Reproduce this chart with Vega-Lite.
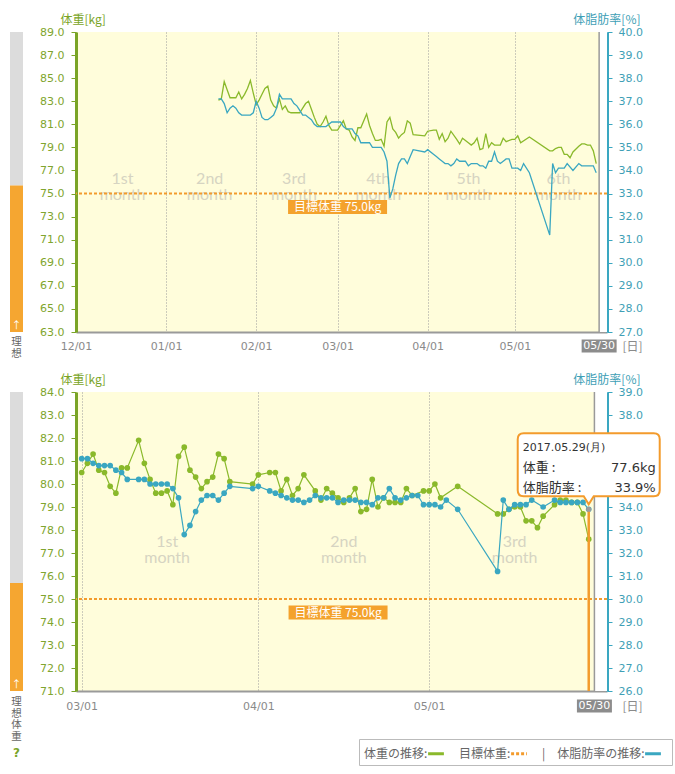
{
  "$schema": "https://vega.github.io/schema/vega-lite/v6.json",
  "description": "Weight and body fat trend, 6 months and 3 months",
  "padding": {"left": 10, "top": 13, "right": 5, "bottom": 5},
  "background": "white",
  "columns": 2,
  "bounds": "flush",
  "spacing": {"row": 60, "column": 53},
  "resolve": {"scale": {"color": "independent"}, "legend": {"color": "independent"}},
  "config": {
    "view": {"stroke": null},
    "font": "Noto Sans CJK JP",
    "axis": {"labelFont": "DejaVu Sans", "titleFont": "Noto Sans CJK JP", "titleFontWeight": "normal", "labelOverlap": false}
  },
  "datasets": {
    "ideal": [
      {"part": "超過", "lo": 75.7, "hi": 89},
      {"part": "理想", "lo": 63, "hi": 75.7}
    ],
    "monthsTop": [
      {"label": "1st\nmonth", "mid": "2016-12-17"},
      {"label": "2nd\nmonth", "mid": "2017-01-16"},
      {"label": "3rd\nmonth", "mid": "2017-02-14"},
      {"label": "4th\nmonth", "mid": "2017-03-15"},
      {"label": "5th\nmonth", "mid": "2017-04-15"},
      {"label": "6th\nmonth", "mid": "2017-05-16"}
    ],
    "monthsBottom": [
      {"label": "1st\nmonth", "mid": "2017-03-16"},
      {"label": "2nd\nmonth", "mid": "2017-04-16"},
      {"label": "3rd\nmonth", "mid": "2017-05-16"}
    ],
    "body": [
      {"date": "2017-01-19", "weight": 83.1, "fat": 37.1},
      {"date": "2017-01-20", "weight": 83.2, "fat": 37.1},
      {"date": "2017-01-21", "weight": 84.7, "fat": 36.9},
      {"date": "2017-01-22", "weight": 84.0, "fat": 36.5},
      {"date": "2017-01-23", "weight": 83.3, "fat": 36.7},
      {"date": "2017-01-24", "weight": 83.3, "fat": 36.8},
      {"date": "2017-01-25", "weight": 83.3, "fat": 36.7},
      {"date": "2017-01-26", "weight": 83.8, "fat": 36.5},
      {"date": "2017-01-27", "weight": 83.2, "fat": 36.4},
      {"date": "2017-01-28", "weight": 83.6, "fat": 36.4},
      {"date": "2017-01-29", "weight": 84.1, "fat": 36.4},
      {"date": "2017-01-30", "weight": 84.8, "fat": 36.4},
      {"date": "2017-01-31", "weight": 83.7, "fat": 36.5},
      {"date": "2017-02-01", "weight": 82.7, "fat": 37.0},
      {"date": "2017-02-02", "weight": 83.1, "fat": 36.7},
      {"date": "2017-02-03", "weight": 83.6, "fat": 36.3},
      {"date": "2017-02-04", "weight": 84.1, "fat": 36.2},
      {"date": "2017-02-05", "weight": 84.3, "fat": 36.2},
      {"date": "2017-02-06", "weight": 83.1, "fat": 36.3},
      {"date": "2017-02-07", "weight": 82.6, "fat": 36.4},
      {"date": "2017-02-08", "weight": 82.4, "fat": 36.7},
      {"date": "2017-02-09", "weight": 83.2, "fat": 37.3},
      {"date": "2017-02-10", "weight": 82.3, "fat": 37.1},
      {"date": "2017-02-11", "weight": 82.6, "fat": 37.1},
      {"date": "2017-02-12", "weight": 82.1, "fat": 37.1},
      {"date": "2017-02-13", "weight": 82.0, "fat": 37.1},
      {"date": "2017-02-14", "weight": 82.0, "fat": 36.9},
      {"date": "2017-02-15", "weight": 82.0, "fat": 36.8},
      {"date": "2017-02-16", "weight": 82.0, "fat": 36.6},
      {"date": "2017-02-17", "weight": 82.4, "fat": 36.4},
      {"date": "2017-02-18", "weight": 82.8, "fat": 36.4},
      {"date": "2017-02-19", "weight": 83.0, "fat": 36.3},
      {"date": "2017-02-20", "weight": 82.3, "fat": 36.2},
      {"date": "2017-02-21", "weight": 81.6, "fat": 36.0},
      {"date": "2017-02-22", "weight": 81.0, "fat": 35.9},
      {"date": "2017-02-23", "weight": 80.8, "fat": 35.9},
      {"date": "2017-02-24", "weight": 81.2, "fat": 35.9},
      {"date": "2017-02-25", "weight": 81.7, "fat": 35.9},
      {"date": "2017-02-26", "weight": 80.9, "fat": 36.0},
      {"date": "2017-02-27", "weight": 80.5, "fat": 36.1},
      {"date": "2017-02-28", "weight": 80.5, "fat": 36.1},
      {"date": "2017-03-01", "weight": 80.5, "fat": 36.1},
      {"date": "2017-03-02", "weight": 80.9, "fat": 36.1},
      {"date": "2017-03-03", "weight": 81.3, "fat": 35.9},
      {"date": "2017-03-04", "weight": 80.6, "fat": 35.8},
      {"date": "2017-03-05", "weight": 80.5, "fat": 35.8},
      {"date": "2017-03-06", "weight": 79.9, "fat": 35.8},
      {"date": "2017-03-07", "weight": 79.6, "fat": 35.6},
      {"date": "2017-03-08", "weight": 80.7, "fat": 35.5},
      {"date": "2017-03-09", "weight": 80.7, "fat": 35.2},
      {"date": "2017-03-11", "weight": 81.9, "fat": 35.2},
      {"date": "2017-03-12", "weight": 80.9, "fat": 35.2},
      {"date": "2017-03-13", "weight": 80.2, "fat": 35.0},
      {"date": "2017-03-14", "weight": 79.6, "fat": 35.0},
      {"date": "2017-03-15", "weight": 79.6, "fat": 35.0},
      {"date": "2017-03-16", "weight": 79.7, "fat": 35.0},
      {"date": "2017-03-17", "weight": 79.1, "fat": 34.8},
      {"date": "2017-03-18", "weight": 81.2, "fat": 34.4},
      {"date": "2017-03-19", "weight": 81.6, "fat": 32.8},
      {"date": "2017-03-20", "weight": 80.6, "fat": 33.2},
      {"date": "2017-03-21", "weight": 80.3, "fat": 33.8},
      {"date": "2017-03-22", "weight": 79.8, "fat": 34.3},
      {"date": "2017-03-23", "weight": 80.1, "fat": 34.5},
      {"date": "2017-03-24", "weight": 80.3, "fat": 34.5},
      {"date": "2017-03-25", "weight": 81.3, "fat": 34.3},
      {"date": "2017-03-26", "weight": 81.1, "fat": 34.6},
      {"date": "2017-03-27", "weight": 80.1, "fat": 34.9},
      {"date": "2017-03-31", "weight": 80.0, "fat": 34.8},
      {"date": "2017-04-01", "weight": 80.4, "fat": 34.9},
      {"date": "2017-04-03", "weight": 80.5, "fat": 34.7},
      {"date": "2017-04-04", "weight": 80.5, "fat": 34.6},
      {"date": "2017-04-05", "weight": 79.7, "fat": 34.5},
      {"date": "2017-04-06", "weight": 80.2, "fat": 34.4},
      {"date": "2017-04-07", "weight": 79.5, "fat": 34.3},
      {"date": "2017-04-08", "weight": 79.8, "fat": 34.3},
      {"date": "2017-04-09", "weight": 80.4, "fat": 34.2},
      {"date": "2017-04-10", "weight": null, "fat": 34.3},
      {"date": "2017-04-11", "weight": 79.7, "fat": 34.5},
      {"date": "2017-04-12", "weight": 79.3, "fat": 34.4},
      {"date": "2017-04-13", "weight": 79.8, "fat": 34.4},
      {"date": "2017-04-14", "weight": 79.6, "fat": 34.4},
      {"date": "2017-04-15", "weight": 79.4, "fat": 34.2},
      {"date": "2017-04-16", "weight": 79.2, "fat": 34.3},
      {"date": "2017-04-17", "weight": 79.4, "fat": 34.3},
      {"date": "2017-04-18", "weight": 79.8, "fat": 34.3},
      {"date": "2017-04-19", "weight": 78.8, "fat": 34.2},
      {"date": "2017-04-20", "weight": 78.9, "fat": 34.2},
      {"date": "2017-04-21", "weight": 80.2, "fat": 34.1},
      {"date": "2017-04-22", "weight": 79.0, "fat": 34.4},
      {"date": "2017-04-23", "weight": 79.4, "fat": 34.4},
      {"date": "2017-04-24", "weight": 79.2, "fat": 34.8},
      {"date": "2017-04-25", "weight": 79.2, "fat": 34.4},
      {"date": "2017-04-26", "weight": 79.2, "fat": 34.3},
      {"date": "2017-04-27", "weight": 79.8, "fat": 34.4},
      {"date": "2017-04-28", "weight": 79.5, "fat": 34.5},
      {"date": "2017-04-29", "weight": null, "fat": 34.5},
      {"date": "2017-04-30", "weight": 79.7, "fat": 34.1},
      {"date": "2017-05-01", "weight": 79.7, "fat": 34.1},
      {"date": "2017-05-02", "weight": 80.0, "fat": 34.1},
      {"date": "2017-05-03", "weight": 79.4, "fat": 34.0},
      {"date": "2017-05-04", "weight": null, "fat": 34.3},
      {"date": "2017-05-06", "weight": 79.9, "fat": 33.9},
      {"date": "2017-05-13", "weight": 78.7, "fat": 31.2},
      {"date": "2017-05-14", "weight": 78.7, "fat": 34.3},
      {"date": "2017-05-15", "weight": 78.9, "fat": 33.9},
      {"date": "2017-05-16", "weight": 79.0, "fat": 34.1},
      {"date": "2017-05-17", "weight": 79.0, "fat": 34.1},
      {"date": "2017-05-18", "weight": 78.4, "fat": 34.1},
      {"date": "2017-05-19", "weight": 78.4, "fat": 34.3},
      {"date": "2017-05-20", "weight": 78.1, "fat": null},
      {"date": "2017-05-21", "weight": 78.6, "fat": 34.0},
      {"date": "2017-05-23", "weight": 79.1, "fat": 34.3},
      {"date": "2017-05-24", "weight": 79.3, "fat": 34.2},
      {"date": "2017-05-25", "weight": 79.3, "fat": 34.2},
      {"date": "2017-05-26", "weight": 79.2, "fat": 34.2},
      {"date": "2017-05-27", "weight": 79.2, "fat": 34.2},
      {"date": "2017-05-28", "weight": 78.7, "fat": 34.2},
      {"date": "2017-05-29", "weight": 77.6, "fat": 33.9}
    ]
  },
  "concat": [
    {
      "width": 13,
      "height": 300,
      "layer": [
        {
          "data": {"name": "ideal"},
          "mark": {"type": "rect"},
          "encoding": {
            "y": {"field": "lo", "type": "quantitative", "scale": {"domain": [63, 89], "nice": false, "zero": false, "clamp": true}, "axis": null},
            "y2": {"field": "hi"},
            "fill": {"field": "part", "type": "nominal", "scale": {"domain": ["超過", "理想"], "range": ["#dcdcdc", "#f5a631"]}, "legend": null}
          }
        },
        {
          "data": {"values": [{}]},
          "mark": {"type": "text", "text": "↑", "color": "white", "fontSize": 10, "baseline": "middle", "dy": -6},
          "encoding": {"y": {"datum": 63, "type": "quantitative"}}
        },
        {
          "data": {"values": [{}]},
          "mark": {"type": "text", "text": ["理", "想"], "color": "#666666", "fontSize": 10.5, "baseline": "top", "dy": 5, "lineHeight": 11.5},
          "encoding": {"y": {"datum": 63, "type": "quantitative"}}
        }
      ]
    },
    {
      "width": 531,
      "height": 300,
      "view": {"fill": "#fffddb"},
      "layer": [
        {
          "layer": [
            {
              "data": {"values": [{}]},
              "mark": {"type": "rect", "color": "white"},
              "encoding": {
                "x": {"datum": {"year": 2017, "month": 5, "date": 30, "utc": true}, "type": "temporal"},
                "x2": {"datum": {"year": 2017, "month": 6, "date": 1, "hours": 17, "utc": true}},
                "y": {"datum": 63, "type": "quantitative"},
                "y2": {"datum": 89}
              }
            },
            {
              "data": {"name": "monthsTop"},
              "mark": {"type": "text", "lineBreak": "\n", "font": "Lato", "fontSize": 16, "lineHeight": 16, "color": "#d6d4c2", "baseline": "middle"},
              "encoding": {
                "x": {"field": "mid", "type": "temporal"},
                "y": {"datum": 76.3, "type": "quantitative"},
                "text": {"field": "label"}
              }
            },
            {
              "data": {"values": [{}]},
              "mark": {"type": "rule", "color": "#f39b2c", "strokeWidth": 2, "strokeDash": [3, 2]},
              "encoding": {"y": {"datum": 75, "type": "quantitative"}}
            },
            {
              "data": {"values": [{}]},
              "mark": {"type": "point", "shape": "M-1,-0.1414L1,-0.1414L1,0.1414L-1,0.1414Z", "size": 9801, "filled": true, "color": "#f4a22d", "opacity": 1, "yOffset": 13.5},
              "encoding": {
                "x": {"datum": {"year": 2017, "month": 3, "date": 1, "utc": true}, "type": "temporal"},
                "y": {"datum": 75, "type": "quantitative"}
              }
            },
            {
              "data": {"values": [{}]},
              "mark": {"type": "text", "text": "目標体重 75.0kg", "color": "white", "fontSize": 12, "baseline": "middle", "yOffset": 13.5},
              "encoding": {
                "x": {"datum": {"year": 2017, "month": 3, "date": 1, "utc": true}, "type": "temporal"},
                "y": {"datum": 75, "type": "quantitative"}
              }
            },
            {
              "data": {"values": [{}]},
              "mark": {"type": "rule", "color": "#9a9a9a", "strokeWidth": 1.5},
              "encoding": {"x": {"datum": {"year": 2017, "month": 5, "date": 30, "utc": true}, "type": "temporal"}}
            },
            {
              "data": {"values": [{}]},
              "mark": {"type": "point", "shape": "M-1,-0.37L1,-0.37L1,0.37L-1,0.37Z", "size": 1225, "filled": true, "color": "#8c8c8c", "opacity": 1, "yOffset": 14},
              "encoding": {
                "x": {"datum": {"year": 2017, "month": 5, "date": 30, "utc": true}, "type": "temporal"},
                "y": {"datum": 63, "type": "quantitative"}
              }
            },
            {
              "data": {"values": [{}]},
              "mark": {"type": "text", "text": "05/30", "font": "DejaVu Sans", "color": "white", "fontSize": 11, "baseline": "middle", "yOffset": 14},
              "encoding": {
                "x": {"datum": {"year": 2017, "month": 5, "date": 30, "utc": true}, "type": "temporal"},
                "y": {"datum": 63, "type": "quantitative"}
              }
            },
            {
              "data": {"name": "body"},
              "transform": [{"filter": "isValid(datum.weight)"}],
              "mark": {"type": "line", "color": "#8ab92b", "strokeWidth": 1.3},
              "encoding": {
                "x": {
                  "field": "date",
                  "type": "temporal",
                  "scale": {"type": "utc", "nice": false, "domain": [{"year": 2016, "month": 12, "date": 1, "utc": true}, {"year": 2017, "month": 6, "date": 1, "hours": 17, "utc": true}]},
                  "axis": {
                    "values": [
                      {"year": 2016, "month": 12, "date": 1, "utc": true},
                      {"year": 2017, "month": 1, "date": 1, "utc": true},
                      {"year": 2017, "month": 2, "date": 1, "utc": true},
                      {"year": 2017, "month": 3, "date": 1, "utc": true},
                      {"year": 2017, "month": 4, "date": 1, "utc": true},
                      {"year": 2017, "month": 5, "date": 1, "utc": true}
                    ],
                    "tickCount": 20,
                    "format": "%m/%d",
                    "labelColor": "#8a8a8a",
                    "labelFontSize": 11,
                    "labelPadding": 8,
                    "labelFlush": false,
                    "ticks": false,
                    "domainColor": "#9a9a9a",
                    "domainWidth": 2,
                    "grid": true,
                    "gridColor": "#9a9a9a",
                    "gridDash": [1, 2],
                    "gridWidth": 1,
                    "title": "[日]",
                    "titleColor": "#8a8a8a",
                    "titleFontSize": 12,
                    "titleX": 556,
                    "titleY": 14,
                    "titleAlign": "center",
                    "titleBaseline": "middle"
                  }
                },
                "y": {
                  "field": "weight",
                  "type": "quantitative",
                  "scale": {"domain": [63, 89], "nice": false, "zero": false},
                  "axis": {
                    "orient": "left",
                    "values": [63, 65, 67, 69, 71, 73, 75, 77, 79, 81, 83, 85, 87, 89],
                    "tickCount": 20,
                    "format": ".1f",
                    "labelOverlap": false,
                    "grid": false,
                    "labelColor": "#7fa52e",
                    "labelFontSize": 11,
                    "labelPadding": 7,
                    "tickColor": "#7aa427",
                    "tickSize": 5,
                    "domainColor": "#7aa427",
                    "domainWidth": 3,
                    "title": "体重[kg]",
                    "titleColor": "#7aa427",
                    "titleFontSize": 12,
                    "titleAngle": 0,
                    "titleAlign": "left",
                    "titleBaseline": "middle",
                    "titleX": -16,
                    "titleY": -13
                  }
                }
              }
            }
          ]
        },
        {
          "data": {"name": "body"},
          "transform": [{"filter": "isValid(datum.fat)"}],
          "mark": {"type": "line", "color": "#3aa7c1", "strokeWidth": 1.3},
          "encoding": {
            "x": {"field": "date", "type": "temporal"},
            "y": {
              "field": "fat",
              "type": "quantitative",
              "scale": {"domain": [27, 40], "nice": false, "zero": false},
              "axis": {
                "orient": "right",
                "values": [27, 28, 29, 30, 31, 32, 33, 34, 35, 36, 37, 38, 39, 40],
                "tickCount": 20,
                "format": ".1f",
                "labelOverlap": false,
                "grid": false,
                "labelColor": "#3f9fb6",
                "labelFontSize": 11,
                "labelPadding": 6,
                "tickColor": "#3aa7c1",
                "tickSize": 5,
                "domainColor": "#3aa7c1",
                "domainWidth": 3,
                "title": "体脂肪率[%]",
                "titleColor": "#3f9fb6",
                "titleFontSize": 12,
                "titleAngle": 0,
                "titleAlign": "right",
                "titleBaseline": "middle",
                "titleX": 33,
                "titleY": -13
              }
            }
          }
        }
      ],
      "resolve": {"scale": {"y": "independent"}}
    },
    {
      "width": 13,
      "height": 299,
      "layer": [
        {
          "data": {"name": "ideal"},
          "mark": {"type": "rect"},
          "encoding": {
            "y": {"field": "lo", "type": "quantitative", "scale": {"domain": [71, 84], "nice": false, "zero": false, "clamp": true}, "axis": null},
            "y2": {"field": "hi"},
            "fill": {"field": "part", "type": "nominal", "scale": {"domain": ["超過", "理想"], "range": ["#dcdcdc", "#f5a631"]}, "legend": null}
          }
        },
        {
          "data": {"values": [{}]},
          "mark": {"type": "text", "text": "↑", "color": "white", "fontSize": 10, "baseline": "middle", "dy": -6},
          "encoding": {"y": {"datum": 71, "type": "quantitative"}}
        },
        {
          "data": {"values": [{}]},
          "mark": {"type": "text", "text": ["理", "想", "体", "重"], "color": "#666666", "fontSize": 10.5, "baseline": "top", "dy": 6, "lineHeight": 11.5},
          "encoding": {"y": {"datum": 71, "type": "quantitative"}}
        },
        {
          "data": {"values": [{}]},
          "mark": {"type": "text", "text": "?", "font": "DejaVu Sans", "fontWeight": "bold", "color": "#7aa427", "fontSize": 12, "baseline": "middle", "dy": 62},
          "encoding": {"y": {"datum": 71, "type": "quantitative"}}
        }
      ]
    },
    {
      "width": 531,
      "height": 299,
      "view": {"fill": "#fffddb"},
      "layer": [
        {
          "layer": [
            {
              "data": {"values": [{}]},
              "mark": {"type": "rect", "color": "white"},
              "encoding": {
                "x": {"datum": {"year": 2017, "month": 5, "date": 30, "utc": true}, "type": "temporal"},
                "x2": {"datum": {"year": 2017, "month": 6, "date": 1, "hours": 5, "utc": true}},
                "y": {"datum": 71, "type": "quantitative"},
                "y2": {"datum": 84}
              }
            },
            {
              "data": {"name": "monthsBottom"},
              "mark": {"type": "text", "lineBreak": "\n", "font": "Lato", "fontSize": 16, "lineHeight": 16, "color": "#d6d4c2", "baseline": "middle"},
              "encoding": {
                "x": {"field": "mid", "type": "temporal"},
                "y": {"datum": 77.5, "type": "quantitative"},
                "text": {"field": "label"}
              }
            },
            {
              "data": {"values": [{}]},
              "mark": {"type": "rule", "strokeWidth": 2, "strokeDash": [3, 2]},
              "encoding": {
                "y": {"datum": 75, "type": "quantitative"},
                "color": {"datum": "目標体重:", "type": "nominal"}
              }
            },
            {
              "data": {"values": [{}]},
              "mark": {"type": "point", "shape": "M-1,-0.1414L1,-0.1414L1,0.1414L-1,0.1414Z", "size": 9801, "filled": true, "color": "#f4a22d", "opacity": 1, "yOffset": 13.5},
              "encoding": {
                "x": {"datum": {"year": 2017, "month": 4, "date": 15, "utc": true}, "type": "temporal"},
                "y": {"datum": 75, "type": "quantitative"}
              }
            },
            {
              "data": {"values": [{}]},
              "mark": {"type": "text", "text": "目標体重 75.0kg", "color": "white", "fontSize": 12, "baseline": "middle", "yOffset": 13.5},
              "encoding": {
                "x": {"datum": {"year": 2017, "month": 4, "date": 15, "utc": true}, "type": "temporal"},
                "y": {"datum": 75, "type": "quantitative"}
              }
            },
            {
              "data": {"values": [{}]},
              "mark": {"type": "rule", "color": "#9a9a9a", "strokeWidth": 1.5},
              "encoding": {"x": {"datum": {"year": 2017, "month": 5, "date": 30, "utc": true}, "type": "temporal"}}
            },
            {
              "data": {"values": [{}]},
              "mark": {"type": "point", "shape": "M-1,-0.37L1,-0.37L1,0.37L-1,0.37Z", "size": 1225, "filled": true, "color": "#8c8c8c", "opacity": 1, "yOffset": 15},
              "encoding": {
                "x": {"datum": {"year": 2017, "month": 5, "date": 30, "utc": true}, "type": "temporal"},
                "y": {"datum": 71, "type": "quantitative"}
              }
            },
            {
              "data": {"values": [{}]},
              "mark": {"type": "text", "text": "05/30", "font": "DejaVu Sans", "color": "white", "fontSize": 11, "baseline": "middle", "yOffset": 15},
              "encoding": {
                "x": {"datum": {"year": 2017, "month": 5, "date": 30, "utc": true}, "type": "temporal"},
                "y": {"datum": 71, "type": "quantitative"}
              }
            },
            {
              "data": {"name": "body"},
              "transform": [
                {"filter": {"field": "date", "gte": {"year": 2017, "month": 3, "date": 1, "utc": true}}},
                {"filter": "isValid(datum.weight)"}
              ],
              "encoding": {
                "x": {
                  "field": "date",
                  "type": "temporal",
                  "scale": {"type": "utc", "nice": false, "domain": [{"year": 2017, "month": 2, "date": 28, "utc": true}, {"year": 2017, "month": 6, "date": 1, "hours": 5, "utc": true}]},
                  "axis": {
                    "values": [
                      {"year": 2017, "month": 3, "date": 1, "utc": true},
                      {"year": 2017, "month": 4, "date": 1, "utc": true},
                      {"year": 2017, "month": 5, "date": 1, "utc": true}
                    ],
                    "tickCount": 20,
                    "format": "%m/%d",
                    "labelColor": "#8a8a8a",
                    "labelFontSize": 11,
                    "labelPadding": 9,
                    "labelFlush": false,
                    "ticks": false,
                    "domainColor": "#9a9a9a",
                    "domainWidth": 2,
                    "grid": true,
                    "gridColor": "#9a9a9a",
                    "gridDash": [1, 2],
                    "gridWidth": 1,
                    "title": "[日]",
                    "titleColor": "#8a8a8a",
                    "titleFontSize": 12,
                    "titleX": 556,
                    "titleY": 15,
                    "titleAlign": "center",
                    "titleBaseline": "middle"
                  }
                },
                "y": {
                  "field": "weight",
                  "type": "quantitative",
                  "scale": {"domain": [71, 84], "nice": false, "zero": false},
                  "axis": {
                    "orient": "left",
                    "values": [71, 72, 73, 74, 75, 76, 77, 78, 79, 80, 81, 82, 83, 84],
                    "tickCount": 20,
                    "format": ".1f",
                    "labelOverlap": false,
                    "grid": false,
                    "labelColor": "#7fa52e",
                    "labelFontSize": 11,
                    "labelPadding": 7,
                    "tickColor": "#7aa427",
                    "tickSize": 5,
                    "domainColor": "#7aa427",
                    "domainWidth": 3,
                    "title": "体重[kg]",
                    "titleColor": "#7aa427",
                    "titleFontSize": 12,
                    "titleAngle": 0,
                    "titleAlign": "left",
                    "titleBaseline": "middle",
                    "titleX": -16,
                    "titleY": -13
                  }
                },
                "color": {
                  "datum": "体重の推移:",
                  "type": "nominal",
                  "scale": {"domain": ["体重の推移:", "目標体重:", "体脂肪率の推移:"], "range": ["#8ab92b", "#f39b2c", "#3aa7c1"]},
                  "legend": {
                    "orient": "none",
                    "legendX": 283,
                    "legendY": 347,
                    "direction": "horizontal",
                    "title": null,
                    "symbolType": "stroke",
                    "symbolStrokeWidth": 3,
                    "symbolSize": 250,
                    "labelFont": "Noto Sans CJK JP",
                    "labelFontSize": 12,
                    "labelColor": "#666666",
                    "labelExpr": "datum.value === '体脂肪率の推移:' ? '|　' + datum.label : datum.label",
                    "columnPadding": 9,
                    "padding": 5,
                    "strokeColor": "#bbbbbb",
                    "fillColor": "white",
                    "encode": {
                      "labels": {"update": {"x": {"value": 0}}},
                      "symbols": {
                        "update": {
                          "x": {"signal": "(length(datum.label) - 1) * 12 + 12 + (datum.value === '体脂肪率の推移:' ? 15 : 0)"},
                          "strokeDash": {"signal": "datum.value === '目標体重:' ? [3, 2] : [1, 0]"}
                        }
                      }
                    }
                  }
                }
              },
              "layer": [
                {"mark": {"type": "line", "strokeWidth": 1.2}},
                {"mark": {"type": "point", "filled": true, "size": 32, "opacity": 1}}
              ]
            }
          ]
        },
        {
          "data": {"name": "body"},
          "transform": [
            {"filter": {"field": "date", "gte": {"year": 2017, "month": 3, "date": 1, "utc": true}}},
            {"filter": "isValid(datum.fat)"}
          ],
          "encoding": {
            "x": {"field": "date", "type": "temporal"},
            "y": {
              "field": "fat",
              "type": "quantitative",
              "scale": {"domain": [26, 39], "nice": false, "zero": false},
              "axis": {
                "orient": "right",
                "values": [26, 27, 28, 29, 30, 31, 32, 33, 34, 35, 36, 37, 38, 39],
                "tickCount": 20,
                "format": ".1f",
                "labelOverlap": false,
                "grid": false,
                "labelColor": "#3f9fb6",
                "labelFontSize": 11,
                "labelPadding": 6,
                "tickColor": "#3aa7c1",
                "tickSize": 5,
                "domainColor": "#3aa7c1",
                "domainWidth": 3,
                "title": "体脂肪率[%]",
                "titleColor": "#3f9fb6",
                "titleFontSize": 12,
                "titleAngle": 0,
                "titleAlign": "right",
                "titleBaseline": "middle",
                "titleX": 33,
                "titleY": -13
              }
            }
          },
          "layer": [
            {
              "encoding": {"color": {"datum": "体脂肪率の推移:", "type": "nominal"}},
              "layer": [
                {"mark": {"type": "line", "strokeWidth": 1.2}},
                {"mark": {"type": "point", "filled": true, "size": 32, "opacity": 1}}
              ]
            },
            {
              "transform": [
                {"filter": {"field": "date", "equal": {"year": 2017, "month": 5, "date": 29, "utc": true}}},
                {"calculate": "format(datum.weight, '.1f') + 'kg'", "as": "wLabel"},
                {"calculate": "format(datum.fat, '.1f') + '%'", "as": "fLabel"},
                {"calculate": "utcFormat(datum.date, '%Y.%m.%d') + '(月)'", "as": "dLabel"}
              ],
              "layer": [
                {"mark": {"type": "rule", "color": "#f39b2c", "strokeWidth": 2.5}, "encoding": {"y2": {"datum": 26}}},
                {"mark": {"type": "point", "filled": true, "color": "#9c9c9c", "size": 26, "opacity": 1}},
                {
                  "mark": {
                    "type": "point",
                    "shape": "M-65,-76L65,-76Q71,-76 71,-70L71,-19Q71,-13 65,-13L5,-13L0,-5L-5,-13L-65,-13Q-71,-13 -71,-19L-71,-70Q-71,-76 -65,-76Z",
                    "size": 4,
                    "filled": true,
                    "fill": "white",
                    "stroke": "#f39b2c",
                    "strokeWidth": 2,
                    "opacity": 1
                  }
                },
                {"mark": {"type": "text", "align": "left", "baseline": "middle", "dx": -66, "dy": -61, "fontSize": 11, "color": "#333333", "font": "DejaVu Sans"}, "encoding": {"text": {"field": "dLabel"}}},
                {"mark": {"type": "text", "text": "体重 :", "align": "left", "baseline": "middle", "dx": -66, "dy": -41, "fontSize": 13, "color": "#333333"}},
                {"mark": {"type": "text", "align": "right", "baseline": "middle", "dx": 67, "dy": -41, "fontSize": 13, "color": "#333333", "font": "DejaVu Sans"}, "encoding": {"text": {"field": "wLabel"}}},
                {"mark": {"type": "text", "text": "体脂肪率 :", "align": "left", "baseline": "middle", "dx": -66, "dy": -21, "fontSize": 13, "color": "#333333"}},
                {"mark": {"type": "text", "align": "right", "baseline": "middle", "dx": 67, "dy": -21, "fontSize": 13, "color": "#333333", "font": "DejaVu Sans"}, "encoding": {"text": {"field": "fLabel"}}}
              ]
            }
          ]
        }
      ],
      "resolve": {"scale": {"y": "independent"}}
    }
  ]
}
